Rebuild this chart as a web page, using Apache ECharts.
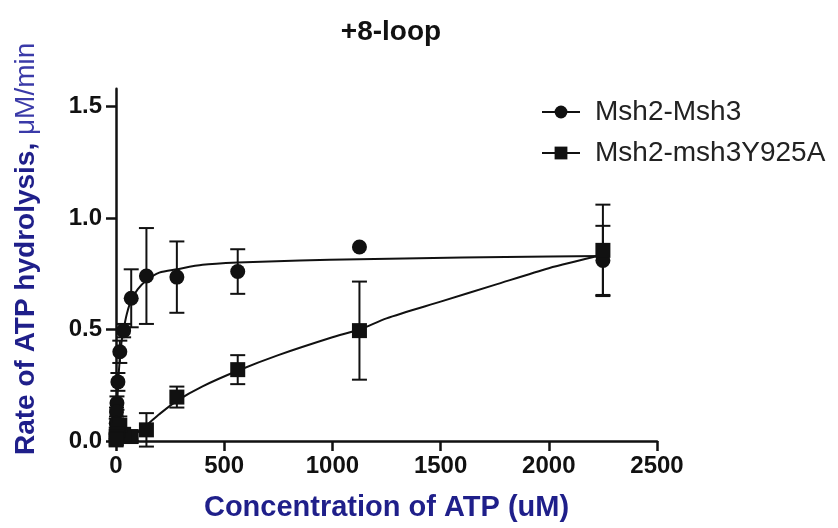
<!DOCTYPE html>
<html>
<head>
<meta charset="utf-8">
<script src="https://cdn.jsdelivr.net/npm/echarts@6/dist/echarts.min.js"></script>
<style>html,body{margin:0;padding:0;background:#fff;}#chart{width:838px;height:528px;}</style>
</head>
<body>
<div id="chart"></div>
<script>
// ATP concentrations (uM)
const concentrations = [2250, 1125, 562.5, 281.25, 140.6, 70.3, 35.2, 17.6, 8.8, 4.4, 2.2, 1.1, 0.55];
// Msh2-Msh3 (circles)
const wtRate = [0.81, 0.87, 0.76, 0.735, 0.74, 0.64, 0.495, 0.40, 0.265, 0.17, 0.13, 0.08, 0.04];
const wtErr  = [0.155, 0, 0.10, 0.16, 0.215, 0.13, 0.03, 0.05, 0.04, 0.03, 0.02, 0.02, 0.01];
// Msh2-msh3Y925A (squares)
const mutRate = [0.855, 0.495, 0.32, 0.197, 0.05, 0.02, 0.03, 0.07, 0.05, 0.03, 0.02, 0.01, 0.005];
const mutErr  = [0.205, 0.22, 0.065, 0.047, 0.075, 0.02, 0.02, 0.04, 0.03, 0.02, 0.01, 0.01, 0.005];
// fitted curves
const wtFitX = [0, 2, 5, 10, 17.6, 25, 35, 50, 70, 100, 140, 200, 281, 400, 562, 850, 1125, 1400, 1800, 2250];
const wtFitY = [0, 0.07, 0.15, 0.26, 0.37, 0.44, 0.50, 0.57, 0.63, 0.68, 0.72, 0.755, 0.77, 0.79, 0.80, 0.81, 0.815, 0.82, 0.825, 0.83];
const mutFitX = [0, 35, 70, 140, 200, 281, 400, 562, 750, 1000, 1125, 1250, 1500, 1750, 2000, 2250];
const mutFitY = [0, 0.005, 0.02, 0.07, 0.12, 0.18, 0.245, 0.315, 0.385, 0.465, 0.50, 0.55, 0.625, 0.70, 0.775, 0.835];
// axis ticks
const xTicks = [0, 500, 1000, 1500, 2000, 2500];
const yTicks = [0, 0.5, 1.0, 1.5];

const FONT = "'Liberation Sans', Arial, sans-serif";
const NAVY = '#1f1f8a';
const INK = '#111';

function pairs(xs, ys) { return xs.map((x, i) => [x, ys[i]]); }
function errData(xs, ys, es) {
  return xs.map((x, i) => [x, ys[i] - es[i], ys[i] + es[i]]).filter((d, i) => es[i] > 0);
}
function renderErr(params, api) {
  const x = api.value(0), lo = api.value(1), hi = api.value(2);
  const a = api.coord([x, lo]), b = api.coord([x, hi]);
  const w = 7.5;
  const st = { stroke: INK, lineWidth: 2 };
  return { type: 'group', children: [
    { type: 'line', shape: { x1: a[0], y1: a[1], x2: b[0], y2: b[1] }, style: st },
    { type: 'line', shape: { x1: a[0] - w, y1: a[1], x2: a[0] + w, y2: a[1] }, style: st },
    { type: 'line', shape: { x1: b[0] - w, y1: b[1], x2: b[0] + w, y2: b[1] }, style: st }
  ]};
}

const chart = echarts.init(document.getElementById('chart'), null, { renderer: 'canvas' });
chart.setOption({
  animation: false,
  backgroundColor: '#fff',
  title: {
    text: '+8-loop', left: 386, top: 13, textAlign: 'center',
    textStyle: { fontFamily: FONT, fontSize: 28, fontWeight: 'bold', color: INK }
  },
  legend: {
    orient: 'vertical', left: 536, top: 92,
    itemWidth: 38, itemHeight: 16, itemGap: 11,
    data: ['Msh2-Msh3', 'Msh2-msh3Y925A'],
    textStyle: { fontFamily: FONT, fontSize: 28, color: '#222', lineHeight: 30, padding: [0, 0, 0, 10] }
  },
  grid: { left: 116, right: 181, top: 88.7, bottom: 87, containLabel: false },
  xAxis: {
    type: 'value', min: 0, max: 2500, interval: 500,
    name: 'Concentration of ATP (uM)', nameLocation: 'middle', nameGap: 52,
    nameTextStyle: { fontFamily: FONT, fontSize: 29, fontWeight: 'bold', color: NAVY },
    axisLine: { show: true, onZero: false, lineStyle: { color: INK, width: 2.5 } },
    axisTick: { show: true, length: 10, lineStyle: { color: INK, width: 2.5 }, customValues: xTicks },
    axisLabel: { customValues: xTicks, margin: 13, fontFamily: FONT, fontSize: 24, fontWeight: 'bold', color: INK,
      formatter: v => String(v) },
    splitLine: { show: false }
  },
  yAxis: {
    type: 'value', min: 0, max: 1.58, interval: 0.5,
    name: '{b|Rate of ATP hydrolysis, }{r|\u03bcM/min}', nameLocation: 'middle', nameRotate: 90, nameGap: 76,
    nameTextStyle: {
      padding: [0, 0, 0, 32],
      rich: {
        b: { fontFamily: FONT, fontSize: 28, fontWeight: 'bold', color: NAVY },
        r: { fontFamily: FONT, fontSize: 28, fontWeight: 'normal', color: '#3a3aa8' }
      }
    },
    axisLine: { show: true, onZero: false, lineStyle: { color: INK, width: 2.5 } },
    axisTick: { show: true, length: 10, lineStyle: { color: INK, width: 2.5 }, customValues: yTicks },
    axisLabel: { customValues: yTicks, margin: 14, fontFamily: FONT, fontSize: 24, fontWeight: 'bold', color: INK,
      formatter: v => Number(v).toFixed(1) },
    splitLine: { show: false }
  },
  series: [
    { name: 'Msh2-Msh3', type: 'line', data: pairs(wtFitX, wtFitY), smooth: 0.25,
      showSymbol: false, symbol: 'circle', symbolSize: 13,
      lineStyle: { color: INK, width: 2 }, itemStyle: { color: INK }, z: 2 },
    { name: 'Msh2-msh3Y925A', type: 'line', data: pairs(mutFitX, mutFitY), smooth: 0.25,
      showSymbol: false, symbol: 'rect', symbolSize: 13,
      lineStyle: { color: INK, width: 2 }, itemStyle: { color: INK }, z: 2 },
    { name: 'wtErr', type: 'custom', renderItem: renderErr, data: errData(concentrations, wtRate, wtErr), z: 3 },
    { name: 'mutErr', type: 'custom', renderItem: renderErr, data: errData(concentrations, mutRate, mutErr), z: 3 },
    { name: 'wtPts', type: 'scatter', data: pairs(concentrations, wtRate), symbol: 'circle', symbolSize: 15,
      itemStyle: { color: INK, opacity: 1 }, z: 4 },
    { name: 'mutPts', type: 'scatter', data: pairs(concentrations, mutRate), symbol: 'rect', symbolSize: 15,
      itemStyle: { color: INK, opacity: 1 }, z: 4 }
  ]
});
</script>
</body>
</html>
